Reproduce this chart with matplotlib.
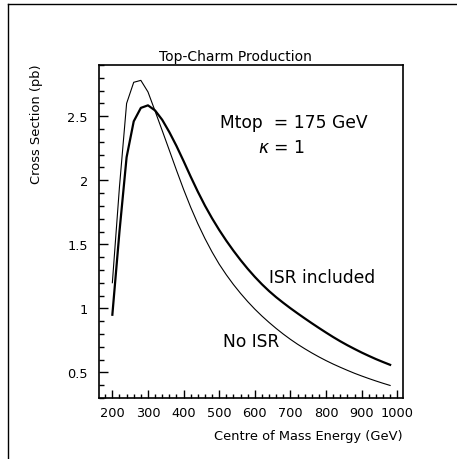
import matplotlib
matplotlib.use("Agg")
import matplotlib.pyplot as plt
from matplotlib.lines import Line2D
from matplotlib.ticker import MultipleLocator

# ---- data ----
energy = [200, 220, 240, 260, 280, 300, 320, 340, 360, 380, 400, 420, 440, 460,
          480, 500, 520, 540, 560, 580, 600, 620, 640, 660, 680, 700, 720, 740,
          760, 780, 800, 820, 840, 860, 880, 900, 920, 940, 960, 980]
no_isr = [1.20, 1.95, 2.60, 2.765, 2.78, 2.69, 2.54, 2.388, 2.234, 2.079, 1.929,
          1.789, 1.661, 1.545, 1.440, 1.345, 1.262, 1.186, 1.117, 1.053, 0.994,
          0.940, 0.890, 0.843, 0.799, 0.758, 0.720, 0.685, 0.652, 0.621, 0.592,
          0.565, 0.540, 0.516, 0.493, 0.472, 0.452, 0.433, 0.415, 0.398]
isr = [0.95, 1.60, 2.18, 2.46, 2.565, 2.585, 2.545, 2.472, 2.376, 2.268, 2.150,
       2.028, 1.911, 1.802, 1.703, 1.612, 1.528, 1.450, 1.377, 1.309, 1.246,
       1.188, 1.135, 1.087, 1.043, 1.001, 0.961, 0.922, 0.884, 0.847, 0.811,
       0.776, 0.743, 0.712, 0.683, 0.655, 0.629, 0.604, 0.581, 0.559]

title = "Top-Charm Production"
xlabel = "Centre of Mass Energy (GeV)"
ylabel = "Cross Section (pb)"
xticks = [200, 300, 400, 500, 600, 700, 800, 900, 1000]
yticks = [0.5, 1.0, 1.5, 2.0, 2.5]
ytick_labels = ["0.5", "1", "1.5", "2", "2.5"]

W, H = 457, 460
fig = plt.figure(figsize=(W / 100, H / 100), dpi=100)
plt.rcParams['font.family'] = ['DejaVu Sans']

def fx(px):
    return px / W

def fy(py):
    return 1 - py / H

ax = fig.add_axes([fx(99), fy(399), fx(403.3) - fx(99), fy(66) - fy(399)])
ax.plot(energy, isr, color='black', lw=1.6, solid_joinstyle='round')
ax.plot(energy, no_isr, color='black', lw=0.8, solid_joinstyle='round')

ax.set_xlim(162.5, 1017)
ax.set_ylim(0.3, 2.9)
ax.set_xticks(xticks)
ax.set_xticklabels([str(t) for t in xticks])
ax.set_yticks(yticks)
ax.set_yticklabels(ytick_labels)
ax.xaxis.set_minor_locator(MultipleLocator(20))
ax.yaxis.set_minor_locator(MultipleLocator(0.1))
ax.tick_params(axis='both', which='both', direction='in', top=False, right=False,
               labelsize=9.3, colors='black')
ax.tick_params(axis='x', which='major', length=5.5, width=1.0, pad=6)
ax.tick_params(axis='x', which='minor', length=2.8, width=1.0)
ax.tick_params(axis='y', which='major', length=6.5, width=1.0, pad=8)
ax.tick_params(axis='y', which='minor', length=3.3, width=1.0)
for s in ax.spines.values():
    s.set_linewidth(1.2)

fig.text(fx(235), fy(56.7), title, ha='center', va='center', fontsize=10)
fig.text(fx(403), fy(436.7), xlabel, ha='right', va='center', fontsize=9.4)
fig.text(fx(36.7), fy(64), ylabel, ha='center', va='top', rotation=90, fontsize=9.4)

fig.text(fx(220), fy(123), "Mtop  = 175 GeV", ha='left', va='center', fontsize=12.3)
fig.text(fx(258), fy(148), "$\\kappa$ = 1", ha='left', va='center', fontsize=12.3)
fig.text(fx(269), fy(278.3), "ISR included", ha='left', va='center', fontsize=12.3)
fig.text(fx(223), fy(342.3), "No ISR", ha='left', va='center', fontsize=12.3)

# outer frame lines (top and left)
fig.add_artist(Line2D([fx(8), 1.0], [fy(5), fy(5)], transform=fig.transFigure,
                      color='black', lw=1.0))
fig.add_artist(Line2D([fx(8), fx(8)], [fy(5), 0.0], transform=fig.transFigure,
                      color='black', lw=1.0))

fig.savefig("out.png", dpi=100)
